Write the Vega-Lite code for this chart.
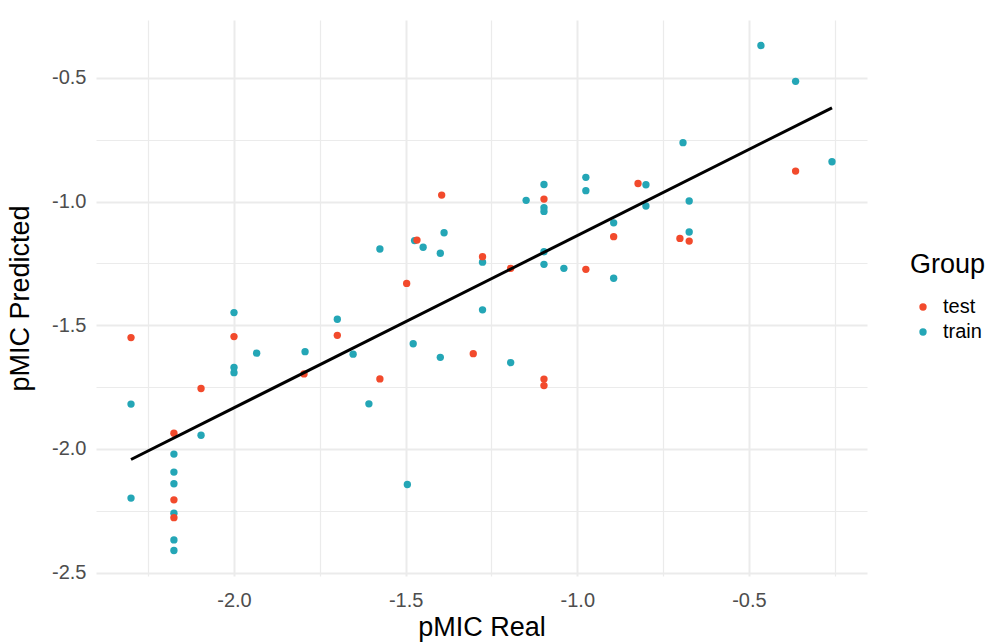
{
  "$schema": "https://vega.github.io/schema/vega-lite/v6.json",
  "autosize": "none",
  "padding": {"left": 96, "top": 20, "right": 128, "bottom": 67},
  "width": 771,
  "height": 556,
  "background": "white",
  "config": {
    "font": "Liberation Sans",
    "view": {"stroke": null},
    "axis": {
      "domain": false,
      "ticks": false,
      "gridColor": "#EBEBEB",
      "labelColor": "#4D4D4D",
      "labelFontSize": 20,
      "labelFont": "Liberation Sans",
      "titleFont": "Liberation Sans",
      "titleFontSize": 27,
      "titleFontWeight": "normal",
      "titleColor": "#000000"
    }
  },
  "datasets": {
    "pts": [
      {"real": -2.000, "pred": -1.449, "Group": "train"},
      {"real": -1.934, "pred": -1.613, "Group": "train"},
      {"real": -2.000, "pred": -1.671, "Group": "train"},
      {"real": -2.000, "pred": -1.692, "Group": "train"},
      {"real": -2.300, "pred": -1.819, "Group": "train"},
      {"real": -2.096, "pred": -1.945, "Group": "train"},
      {"real": -2.175, "pred": -2.021, "Group": "train"},
      {"real": -2.175, "pred": -2.094, "Group": "train"},
      {"real": -2.175, "pred": -2.141, "Group": "train"},
      {"real": -2.300, "pred": -2.199, "Group": "train"},
      {"real": -2.175, "pred": -2.260, "Group": "train"},
      {"real": -2.175, "pred": -2.368, "Group": "train"},
      {"real": -2.175, "pred": -2.411, "Group": "train"},
      {"real": -1.388, "pred": -1.126, "Group": "train"},
      {"real": -1.474, "pred": -1.158, "Group": "train"},
      {"real": -1.449, "pred": -1.185, "Group": "train"},
      {"real": -1.575, "pred": -1.192, "Group": "train"},
      {"real": -1.399, "pred": -1.209, "Group": "train"},
      {"real": -1.699, "pred": -1.476, "Group": "train"},
      {"real": -1.793, "pred": -1.607, "Group": "train"},
      {"real": -1.653, "pred": -1.617, "Group": "train"},
      {"real": -1.478, "pred": -1.575, "Group": "train"},
      {"real": -1.399, "pred": -1.630, "Group": "train"},
      {"real": -1.097, "pred": -0.931, "Group": "train"},
      {"real": -0.975, "pred": -0.902, "Group": "train"},
      {"real": -0.975, "pred": -0.956, "Group": "train"},
      {"real": -1.149, "pred": -0.995, "Group": "train"},
      {"real": -1.097, "pred": -1.025, "Group": "train"},
      {"real": -1.097, "pred": -1.040, "Group": "train"},
      {"real": -1.276, "pred": -1.245, "Group": "train"},
      {"real": -1.097, "pred": -1.203, "Group": "train"},
      {"real": -1.097, "pred": -1.254, "Group": "train"},
      {"real": -1.039, "pred": -1.270, "Group": "train"},
      {"real": -0.894, "pred": -1.086, "Group": "train"},
      {"real": -0.894, "pred": -1.310, "Group": "train"},
      {"real": -1.276, "pred": -1.438, "Group": "train"},
      {"real": -1.194, "pred": -1.651, "Group": "train"},
      {"real": -0.465, "pred": -0.369, "Group": "train"},
      {"real": -0.364, "pred": -0.514, "Group": "train"},
      {"real": -0.692, "pred": -0.762, "Group": "train"},
      {"real": -0.258, "pred": -0.839, "Group": "train"},
      {"real": -0.800, "pred": -0.932, "Group": "train"},
      {"real": -0.800, "pred": -1.018, "Group": "train"},
      {"real": -0.674, "pred": -0.998, "Group": "train"},
      {"real": -0.674, "pred": -1.123, "Group": "train"},
      {"real": -1.607, "pred": -1.818, "Group": "train"},
      {"real": -1.495, "pred": -2.144, "Group": "train"},
      {"real": -2.300, "pred": -1.550, "Group": "test"},
      {"real": -2.000, "pred": -1.546, "Group": "test"},
      {"real": -2.096, "pred": -1.756, "Group": "test"},
      {"real": -2.175, "pred": -1.937, "Group": "test"},
      {"real": -2.175, "pred": -2.206, "Group": "test"},
      {"real": -2.175, "pred": -2.278, "Group": "test"},
      {"real": -1.467, "pred": -1.156, "Group": "test"},
      {"real": -1.497, "pred": -1.331, "Group": "test"},
      {"real": -1.699, "pred": -1.541, "Group": "test"},
      {"real": -1.303, "pred": -1.615, "Group": "test"},
      {"real": -1.796, "pred": -1.697, "Group": "test"},
      {"real": -1.575, "pred": -1.717, "Group": "test"},
      {"real": -1.395, "pred": -0.974, "Group": "test"},
      {"real": -0.823, "pred": -0.927, "Group": "test"},
      {"real": -1.097, "pred": -0.990, "Group": "test"},
      {"real": -1.276, "pred": -1.223, "Group": "test"},
      {"real": -1.194, "pred": -1.270, "Group": "test"},
      {"real": -0.975, "pred": -1.274, "Group": "test"},
      {"real": -0.894, "pred": -1.142, "Group": "test"},
      {"real": -1.097, "pred": -1.718, "Group": "test"},
      {"real": -1.097, "pred": -1.744, "Group": "test"},
      {"real": -0.364, "pred": -0.877, "Group": "test"},
      {"real": -0.701, "pred": -1.149, "Group": "test"},
      {"real": -0.674, "pred": -1.160, "Group": "test"}
    ],
    "fit": [
      {"real": -2.300, "pred": -2.043},
      {"real": -0.258, "pred": -0.621}
    ]
  },
  "layer": [
    {
      "data": {"name": "pts"},
      "mark": {"type": "circle", "size": 54, "opacity": 1},
      "encoding": {
        "x": {
          "field": "real", "type": "quantitative", "title": "pMIC Real",
          "scale": {"domain": [-2.402, -0.156], "nice": false, "zero": false},
          "axis": {
            "values": [-2.25, -2, -1.75, -1.5, -1.25, -1, -0.75, -0.5, -0.25],
            "labelExpr": "abs(datum.value*2 - round(datum.value*2)) < 0.001 ? (datum.value < 0 ? '-' : '') + format(abs(datum.value), '.1f') : ''",
            "gridWidth": {"condition": {"test": "abs(datum.value*2 - round(datum.value*2)) < 0.001", "value": 2}, "value": 1.2},
            "labelPadding": 14,
            "titlePadding": 4
          }
        },
        "y": {
          "field": "pred", "type": "quantitative", "title": "pMIC Predicted",
          "scale": {"domain": [-2.514, -0.266], "nice": false, "zero": false},
          "axis": {
            "values": [-2.5, -2.25, -2, -1.75, -1.5, -1.25, -1, -0.75, -0.5],
            "labelExpr": "abs(datum.value*2 - round(datum.value*2)) < 0.001 ? (datum.value < 0 ? '-' : '') + format(abs(datum.value), '.1f') : ''",
            "gridWidth": {"condition": {"test": "abs(datum.value*2 - round(datum.value*2)) < 0.001", "value": 2}, "value": 1.2},
            "labelPadding": 10,
            "titlePadding": 17
          }
        },
        "color": {
          "field": "Group", "type": "nominal",
          "scale": {"domain": ["test", "train"], "range": ["#F24A2C", "#24A6B6"]},
          "legend": {
            "orient": "none",
            "legendX": 814,
            "legendY": 232,
            "title": "Group",
            "titleFontSize": 27,
            "titleFontWeight": "normal",
            "titleColor": "#000000",
            "titlePadding": 18,
            "labelFontSize": 20,
            "labelColor": "#000000",
            "symbolType": "circle",
            "symbolSize": 54,
            "symbolStrokeWidth": 0,
            "symbolOffset": 3,
            "labelOffset": 10,
            "rowPadding": 5
          }
        },
        "order": {"field": "Group", "sort": "descending"}
      }
    },
    {
      "data": {"name": "fit"},
      "mark": {"type": "line", "color": "#000000", "strokeWidth": 3},
      "encoding": {
        "x": {"field": "real", "type": "quantitative"},
        "y": {"field": "pred", "type": "quantitative"}
      }
    }
  ]
}
